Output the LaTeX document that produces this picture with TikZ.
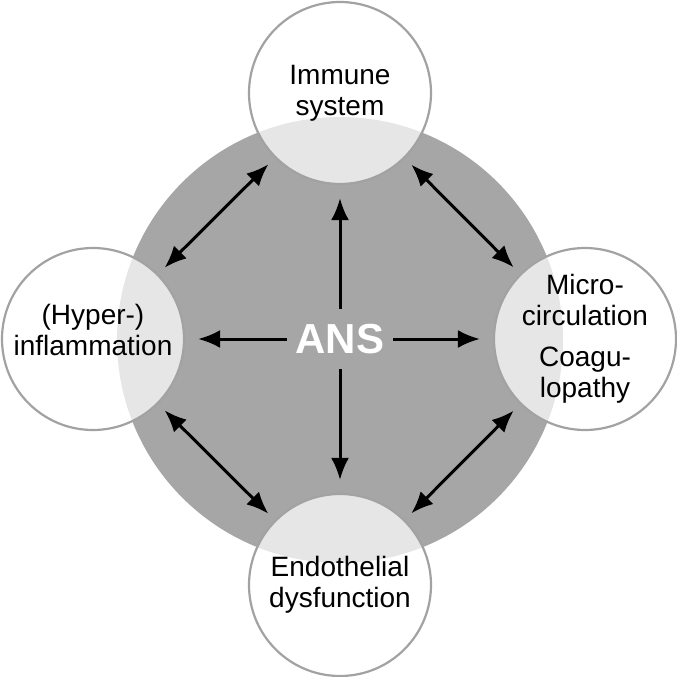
\documentclass[tikz,border=0pt]{standalone}
\usepackage{fontspec}
\setmainfont{Liberation Sans}
\usetikzlibrary{arrows.meta}
\definecolor{ansgray}{HTML}{A6A6A6}
\definecolor{rimgray}{HTML}{A2A2A2}

\begin{document}
\begin{tikzpicture}[x=1pt, y=-1pt,
    every node/.style = {align=center, font=\fontsize{28}{31}\selectfont},
    sphere/.style = {circle, draw=rimgray, line width=2.2pt, fill=white, fill opacity=0.72, text opacity=1, minimum size=182pt, inner sep=0pt},
    biarrow/.style = {{Latex[length=22pt,width=18pt]}-{Latex[length=22pt,width=18pt]}, line width=3pt, shorten <=9pt, shorten >=9pt},
    outarrow/.style = {-{Latex[length=22pt,width=18pt]}, line width=3pt, shorten >=13pt}]

  \useasboundingbox (0,0) rectangle (677,677);
  \fill[ansgray] (340,340) circle (223pt);

  \node[font=\fontsize{42}{44}\selectfont\bfseries, text=white, minimum width=106pt, minimum height=60pt, inner sep=0pt] (ans) at (340,339) {ANS};

  \node[sphere] (immune) at (340,93) {Immune\\system};
  \node[sphere, label={[yshift=9pt]center:{(Hyper-)\\inflammation}}] (infl) at (93,339) {};
  \node[sphere] (micro) at (585,339) {Micro-\\circulation\\[10pt]Coagu-\\lopathy};
  \node[sphere] (endo) at (340,585) {Endothelial\\dysfunction};

  \draw[outarrow] (ans) -- (immune);
  \draw[outarrow] (ans) -- (infl);
  \draw[outarrow] (ans) -- (micro);
  \draw[outarrow] (ans) -- (endo);

  \draw[biarrow] (infl) -- (immune);
  \draw[biarrow] (immune) -- (micro);
  \draw[biarrow] (infl) -- (endo);
  \draw[biarrow] (micro) -- (endo);

\end{tikzpicture}
\end{document}
